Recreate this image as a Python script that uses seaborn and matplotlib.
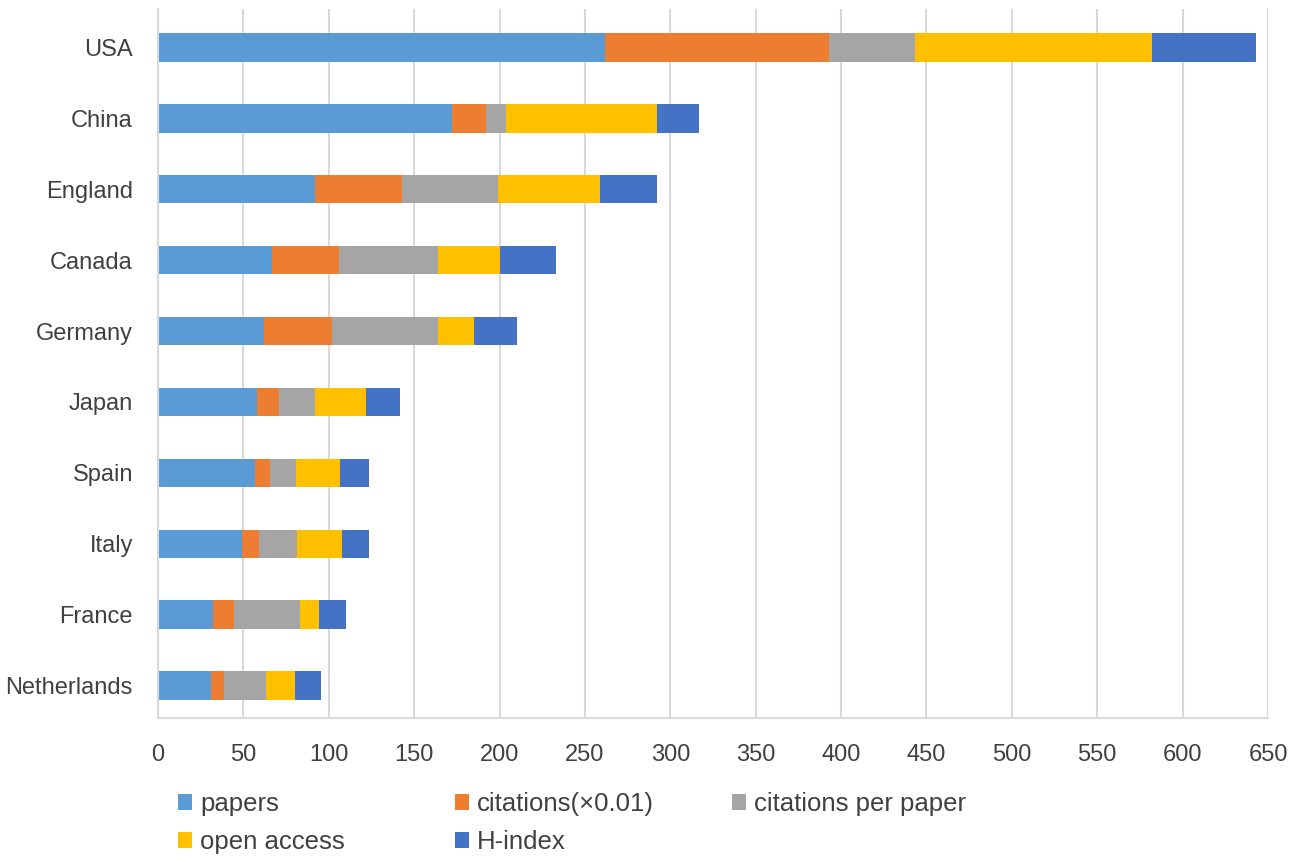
import numpy as np
import pandas as pd
import seaborn as sns
import matplotlib.pyplot as plt
from matplotlib.patches import Patch

# values
countries = ['USA', 'China', 'England', 'Canada', 'Germany',
             'Japan', 'Spain', 'Italy', 'France', 'Netherlands']
papers = [262, 172, 92, 67, 62, 58, 57, 49, 32, 31]
citations = [131, 20, 51, 39, 40, 13, 8.6, 10.3, 12.7, 7.4]
cites_per_paper = [50, 12, 56, 58, 62, 21, 15.2, 22, 38.3, 24.6]
open_access = [139, 88, 60, 36, 21, 30, 26, 26.5, 11.1, 17.1]
h_index = [61, 25, 33, 33, 25, 20, 16.8, 15.6, 15.8, 15.6]

series = ['papers', 'citations(×0.01)', 'citations per paper', 'open access', 'H-index']
colors = ['#5B9BD5', '#ED7D31', '#A5A5A5', '#FFC000', '#4472C4']

df = pd.DataFrame({'country': countries, 'papers': papers,
                   'citations(×0.01)': citations,
                   'citations per paper': cites_per_paper,
                   'open access': open_access, 'H-index': h_index})

sns.set_style('white')
plt.rcParams['font.family'] = ['Liberation Sans', 'DejaVu Sans']
text_col = '#404040'

fig = plt.figure(figsize=(13, 8.68), dpi=100)
ax = fig.add_axes([0.1215, 0.1728, 0.8539, 0.8168])

# stacked bars: draw cumulative totals from the longest down
cum = df[series].cumsum(axis=1)
for name, col in reversed(list(zip(series, colors))):
    sns.barplot(x=cum[name], y=df['country'], orient='h', color=col,
                saturation=1, width=0.4, ax=ax, linewidth=0)

ax.set_xlim(0, 650)
ax.set_ylim(9.458, -0.542)
ax.set_xticks(np.arange(0, 651, 50))
ax.set_xlabel('')
ax.set_ylabel('')
ax.grid(axis='x', color='#d9d9d9', linewidth=1.5)
ax.set_axisbelow(True)
for s in ['top', 'right']:
    ax.spines[s].set_visible(False)
for s in ['left', 'bottom']:
    ax.spines[s].set_color('#d9d9d9')
    ax.spines[s].set_linewidth(1.5)
ax.tick_params(axis='x', length=0, pad=19, labelsize=17, labelcolor=text_col)
ax.tick_params(axis='y', length=0, pad=18, labelsize=17, labelcolor=text_col)

# legend laid out in rows like the original, one legend per column
handles = {n: Patch(facecolor=c, edgecolor='none') for n, c in zip(series, colors)}
columns = [(['papers', 'open access'], 178),
           (['citations(×0.01)', 'H-index'], 455),
           (['citations per paper'], 732)]
for names, xpix in columns:
    fig.legend([handles[n] for n in names], names, loc='upper left',
               bbox_to_anchor=(xpix / 1300, 1 - 792 / 868), frameon=False,
               fontsize=18.5, labelcolor=text_col, borderpad=0,
               borderaxespad=0, handlelength=0.55, handleheight=0.55,
               handletextpad=0.3, labelspacing=0.55)

fig.savefig('out.png', dpi=100)
